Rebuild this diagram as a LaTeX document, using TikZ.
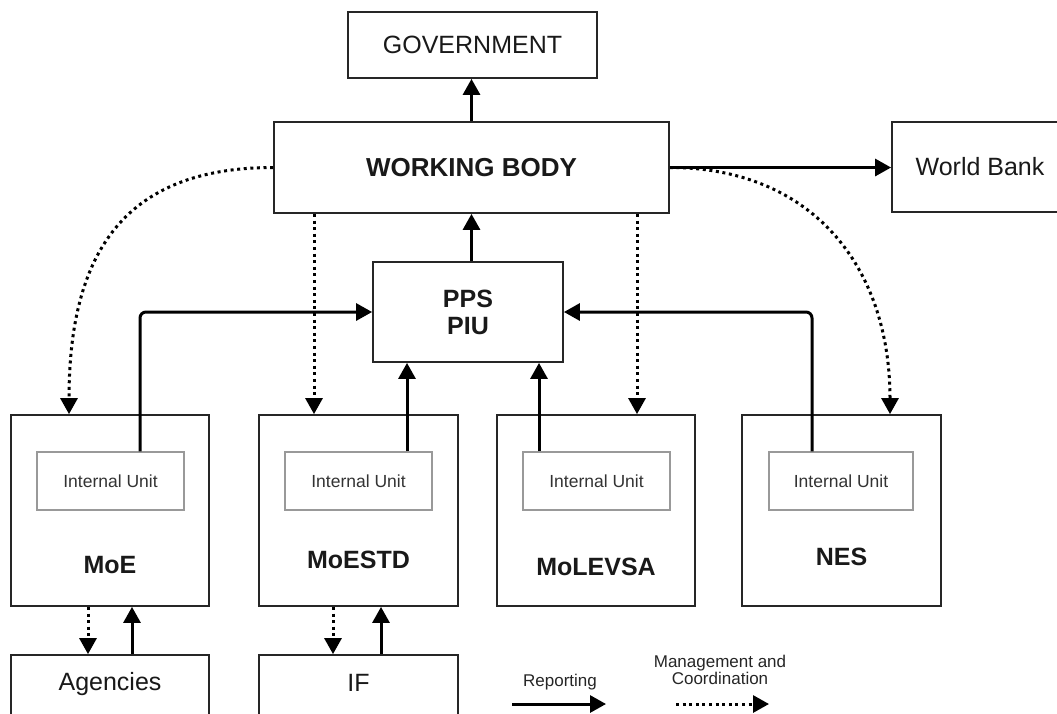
\documentclass[tikz,border=0pt]{standalone}
\usepackage{fontspec}
\setmainfont{Liberation Sans}
\usetikzlibrary{arrows.meta}
\begin{document}
\begin{tikzpicture}[x=1pt,y=-1pt,
  box/.style={draw=black!85, line width=1.8pt, fill=white, inner sep=0pt},
  unit/.style={draw=black!40, line width=1.1pt, inner sep=0pt,
    font=\fontsize{17.5}{19}\selectfont, text=black!80},
  bigtext/.style={font=\fontsize{25}{27}\selectfont, text=black!90},
  boldtext/.style={font=\fontsize{25}{27}\selectfont\bfseries, text=black!90},
  small/.style={font=\fontsize{17}{17}\selectfont, text=black!85, align=center},
  rep/.style={line width=3pt, -{Triangle[length=16pt,width=17pt]}},
  mgmt/.style={line width=3pt, dash pattern=on 3pt off 3.6pt,
    -{Triangle[length=16pt,width=17pt]}},
]
\fill[white] (0,0) rectangle (1057,713);
\useasboundingbox (0,0) rectangle (1057,713);

% top level
\node[box, bigtext, minimum width=249pt, minimum height=66pt] (gov) at (472.5,45) {GOVERNMENT};
\node[box, boldtext, font=\fontsize{26}{28}\selectfont\bfseries, minimum width=395pt, minimum height=91pt] (wb) at (471.5,167.5) {WORKING BODY};
\node[box, bigtext, minimum width=176pt, minimum height=90pt] (wbk) at (980,167) {World Bank};
\node[box, boldtext, align=center, minimum width=190pt, minimum height=100pt] (pps) at (468,312) {PPS\\PIU};

% ministries and their internal units
\node[box, minimum width=198pt, minimum height=191pt] (moe) at (110,510.5) {};
\node[box, minimum width=199pt, minimum height=191pt] (moestd) at (358.5,510.5) {};
\node[box, minimum width=198pt, minimum height=191pt] (molevsa) at (596,510.5) {};
\node[box, minimum width=199pt, minimum height=191pt] (nes) at (841.5,510.5) {};

\node[unit, minimum width=147pt, minimum height=58pt] (iu1) at (110.5,481) {Internal Unit};
\node[unit, minimum width=147pt, minimum height=58pt] (iu2) at (358.5,481) {Internal Unit};
\node[unit, minimum width=147pt, minimum height=58pt] (iu3) at (596.5,481) {Internal Unit};
\node[unit, minimum width=144pt, minimum height=58pt] (iu4) at (841,481) {Internal Unit};

\node[boldtext] (moeT) at (110,565) {MoE};
\node[boldtext] (moestdT) at (358.5,560) {MoESTD};
\node[boldtext] (molevsaT) at (596,567) {MoLEVSA};
\node[boldtext] (nesT) at (841.5,557) {NES};

% subordinate bodies (running past the lower edge)
\node[box, minimum width=198pt, minimum height=70pt] (ag) at (110,690) {};
\node[box, minimum width=199pt, minimum height=70pt] (if) at (358.5,690) {};
\node[bigtext] (agT) at (110,684) {Agencies};
\node[bigtext] (ifT) at (358.5,683) {IF};

% reporting lines
\draw[rep] (wb.north) -- (wb.north |- gov.south);
\draw[rep] (wb.south |- pps.north) -- (wb.south);
\draw[rep] (wb.east) -- (wb.east -| wbk.west);

\coordinate (a1) at ([xshift=29.5pt]iu1.north);
\coordinate (a2) at ([xshift=48.5pt]iu2.north);
\coordinate (a3) at ([xshift=-57.5pt]iu3.north);
\coordinate (a4) at ([xshift=-29pt]iu4.north);
\draw[rep, rounded corners=6pt] (a1) |- (pps.west);
\draw[rep] (a2) -- (a2 |- pps.south);
\draw[rep] (a3) -- (a3 |- pps.south);
\draw[rep, rounded corners=6pt] (a4) |- (pps.east);

% management and coordination lines
\coordinate (m1) at ([xshift=-41pt]moe.north);
\coordinate (m2) at ([xshift=-44.5pt]moestd.north);
\coordinate (m3) at ([xshift=41pt]molevsa.north);
\coordinate (m4) at ([xshift=48.5pt]nes.north);
\draw[mgmt] (wb.west) .. controls +(-150,0) and +(0,-160) .. (m1);
\draw[mgmt] (m2 |- wb.south) -- (m2);
\draw[mgmt] (m3 |- wb.south) -- (m3);
\draw[mgmt] (wb.east) .. controls +(140,0) and +(0,-150) .. (m4);

% links to subordinate bodies
\coordinate (d1) at ([xshift=-22pt]moe.south);
\coordinate (u1) at ([xshift=22pt]ag.north);
\coordinate (d2) at ([xshift=-25.5pt]moestd.south);
\coordinate (u2) at ([xshift=22.5pt]if.north);
\draw[mgmt] (d1) -- (d1 |- ag.north);
\draw[rep] (u1) -- (u1 |- moe.south);
\draw[mgmt] (d2) -- (d2 |- if.north);
\draw[rep] (u2) -- (u2 |- moestd.south);

% legend
\node[small] (repL) at (560,682) {Reporting};
\node[small] (mgL) at (720,670) {Management and\\Coordination};
\coordinate (r1) at (512,704);
\coordinate (r2) at (606,704);
\coordinate (c1) at (676,704);
\coordinate (c2) at (769,704);
\draw[rep] (r1) -- (r2);
\draw[mgmt] (c1) -- (c2);
\end{tikzpicture}
\end{document}
